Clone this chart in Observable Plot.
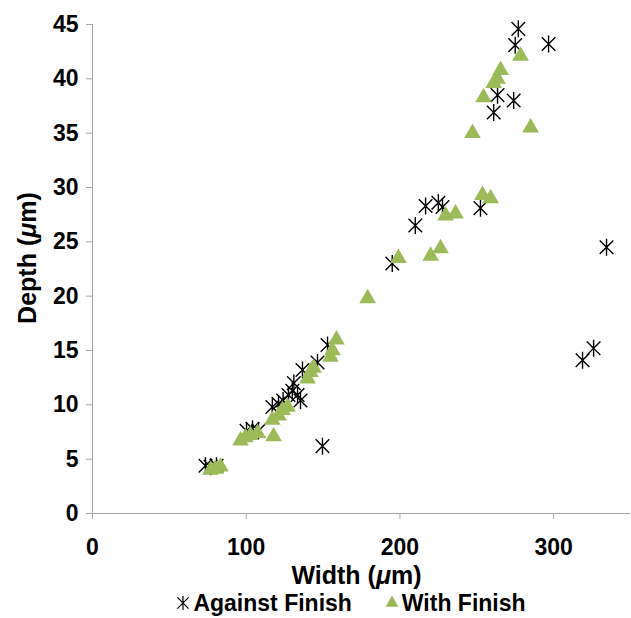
<!DOCTYPE html>
<html><head><meta charset="utf-8">
<script src="https://cdn.jsdelivr.net/npm/d3@7"></script>
<script src="https://cdn.jsdelivr.net/npm/@observablehq/plot@0.6"></script>
<style>
body{margin:0;background:#fff;font-family:"Liberation Sans",Arial,sans-serif;}
#legend{height:30px;padding-left:70px;width:561px;display:flex;justify-content:center;align-items:center;font:bold 23px "Liberation Sans",Arial,sans-serif;color:#000;}
#legend span{display:inline-flex;align-items:center;}
</style></head><body>
<div id="chart"></div>
<div id="legend"></div>
<script>
// Series names
const seriesNames = ["Against Finish", "With Finish"];
const seriesColors = ["#000000", "#9bbb59"];
// Against Finish (µm)
const againstWidth = [73.5, 76.8, 80.7, 100.2, 104.1, 108, 117, 121, 124, 127.5, 130, 133.4, 135.3, 131, 136.6, 146.4, 152.9, 149.6, 195, 210, 216.7, 225, 227.7, 252.4, 277, 275, 296.7, 263.5, 274, 261, 334.4, 318.8, 326];
const againstDepth = [4.4, 4.3, 4.4, 7.6, 7.8, 7.6, 9.8, 10.1, 10.4, 10.9, 11.3, 10.9, 10.4, 12.0, 13.2, 13.9, 15.5, 6.2, 23.0, 26.5, 28.3, 28.6, 28.2, 28.1, 44.6, 43.1, 43.2, 38.5, 38.0, 36.9, 24.5, 14.1, 15.2];
// With Finish (µm)
const withWidth = [76.8, 80, 83.3, 96.3, 99.5, 102.8, 107.4, 117.8, 117, 121, 123.6, 126.9, 139.9, 141.8, 143.8, 154.8, 156.1, 158.7, 179, 199, 220, 226.4, 229.7, 236.2, 253.7, 259, 278.5, 265.5, 263.5, 261, 254.4, 247.2, 285];
const withDepth = [4.0, 4.1, 4.3, 6.7, 7.0, 7.2, 7.4, 7.1, 8.6, 9.0, 9.5, 9.8, 12.4, 13.0, 13.4, 14.4, 15.0, 16.0, 19.8, 23.5, 23.7, 24.4, 27.4, 27.6, 29.3, 29.0, 42.1, 40.8, 40.0, 39.6, 38.3, 35.0, 35.5];
// Axes
const xTicks = [0, 100, 200, 300];
const yTicks = [0, 5, 10, 15, 20, 25, 30, 35, 40, 45];
const xTitle = "Width (μm)";
const yTitle = "Depth (μm)";

const against = againstWidth.map((w, i) => ({width: w, depth: againstDepth[i]}));
const withF = withWidth.map((w, i) => ({width: w, depth: withDepth[i]}));

const asterisk = {
  draw(ctx, size) {
    const r = Math.sqrt(size / Math.PI);
    const d = r * 0.8;
    ctx.moveTo(0, -r); ctx.lineTo(0, r);
    ctx.moveTo(-d, -d); ctx.lineTo(d, d);
    ctx.moveTo(-d, d); ctx.lineTo(d, -d);
  }
};

const font = '"Liberation Sans", Arial, sans-serif';
const fs = 23;
const ts = 25;
const chart = Plot.plot({
  width: 631, height: 588,
  marginLeft: 92, marginRight: 1, marginTop: 24, marginBottom: 75,
  x: {domain: [0, 350]},
  y: {domain: [0, 45]},
  style: {fontFamily: font, fontSize: fs + "px", fontWeight: "bold", color: "#000", background: "#fff", overflow: "visible"},
  marks: [
    Plot.ruleY([0], {stroke: "#a6a6a6", strokeWidth: 1}),
    Plot.ruleX([0], {stroke: "#a6a6a6", strokeWidth: 1}),
    Plot.axisX({ticks: xTicks, tickSize: 6, tickPadding: 19, stroke: "#a6a6a6", fill: "#000", label: null, fontSize: fs, fontWeight: "bold"}),
    Plot.axisY({ticks: yTicks, tickSize: 6, tickPadding: 8, stroke: "#a6a6a6", fill: "#000", label: null, fontSize: fs, fontWeight: "bold"}),
    Plot.dot(against, {x: "width", y: "depth", symbol: asterisk, r: 8.5, stroke: seriesColors[0], strokeWidth: 1.4, fill: "none"}),
    Plot.dot(withF, {x: "width", y: "depth", symbol: "triangle", r: 6.2, fill: seriesColors[1], stroke: "none"}),
    Plot.text([xTitle], {frameAnchor: "bottom", dy: 62, dx: -5, text: d => d, fontSize: ts, fontWeight: "bold", fill: "#000", lineAnchor: "middle", textAnchor: "middle"}),
    Plot.text([yTitle], {frameAnchor: "left", dx: -65, dy: -11, rotate: -90, text: d => d, fontSize: ts, fontWeight: "bold", fill: "#000", lineAnchor: "middle", textAnchor: "middle"})
  ]
});
document.getElementById("chart").appendChild(chart);

// italic mu in titles
d3.select(chart).selectAll("text").each(function() {
  const t = this.textContent;
  if (t.includes("μ")) {
    const parts = t.split("μ");
    const sel = d3.select(this);
    sel.text(null);
    sel.append("tspan").text(parts[0]);
    sel.append("tspan").attr("font-style", "italic").text("μ");
    sel.append("tspan").text(parts[1]);
  }
});

// legend
const legend = d3.select("#legend");
seriesNames.forEach((name, i) => {
  const item = legend.append("span").style("margin-left", i ? "32px" : "0px");
  const svg = item.append("svg").attr("width", 16).attr("height", 16).attr("viewBox", "-8 -8 16 16").style("margin-right", "2px");
  if (i === 0) {
    const p = d3.path(); asterisk.draw(p, Math.PI * 7 * 7);
    svg.append("path").attr("d", p.toString()).attr("stroke", seriesColors[0]).attr("stroke-width", 1.2).attr("fill", "none");
  } else {
    svg.append("path").attr("d", d3.symbol(d3.symbolTriangle, Math.PI * 4.8 * 4.8)()).attr("fill", seriesColors[1]);
  }
  item.append("span").text(name);
});
</script>
</body></html>
